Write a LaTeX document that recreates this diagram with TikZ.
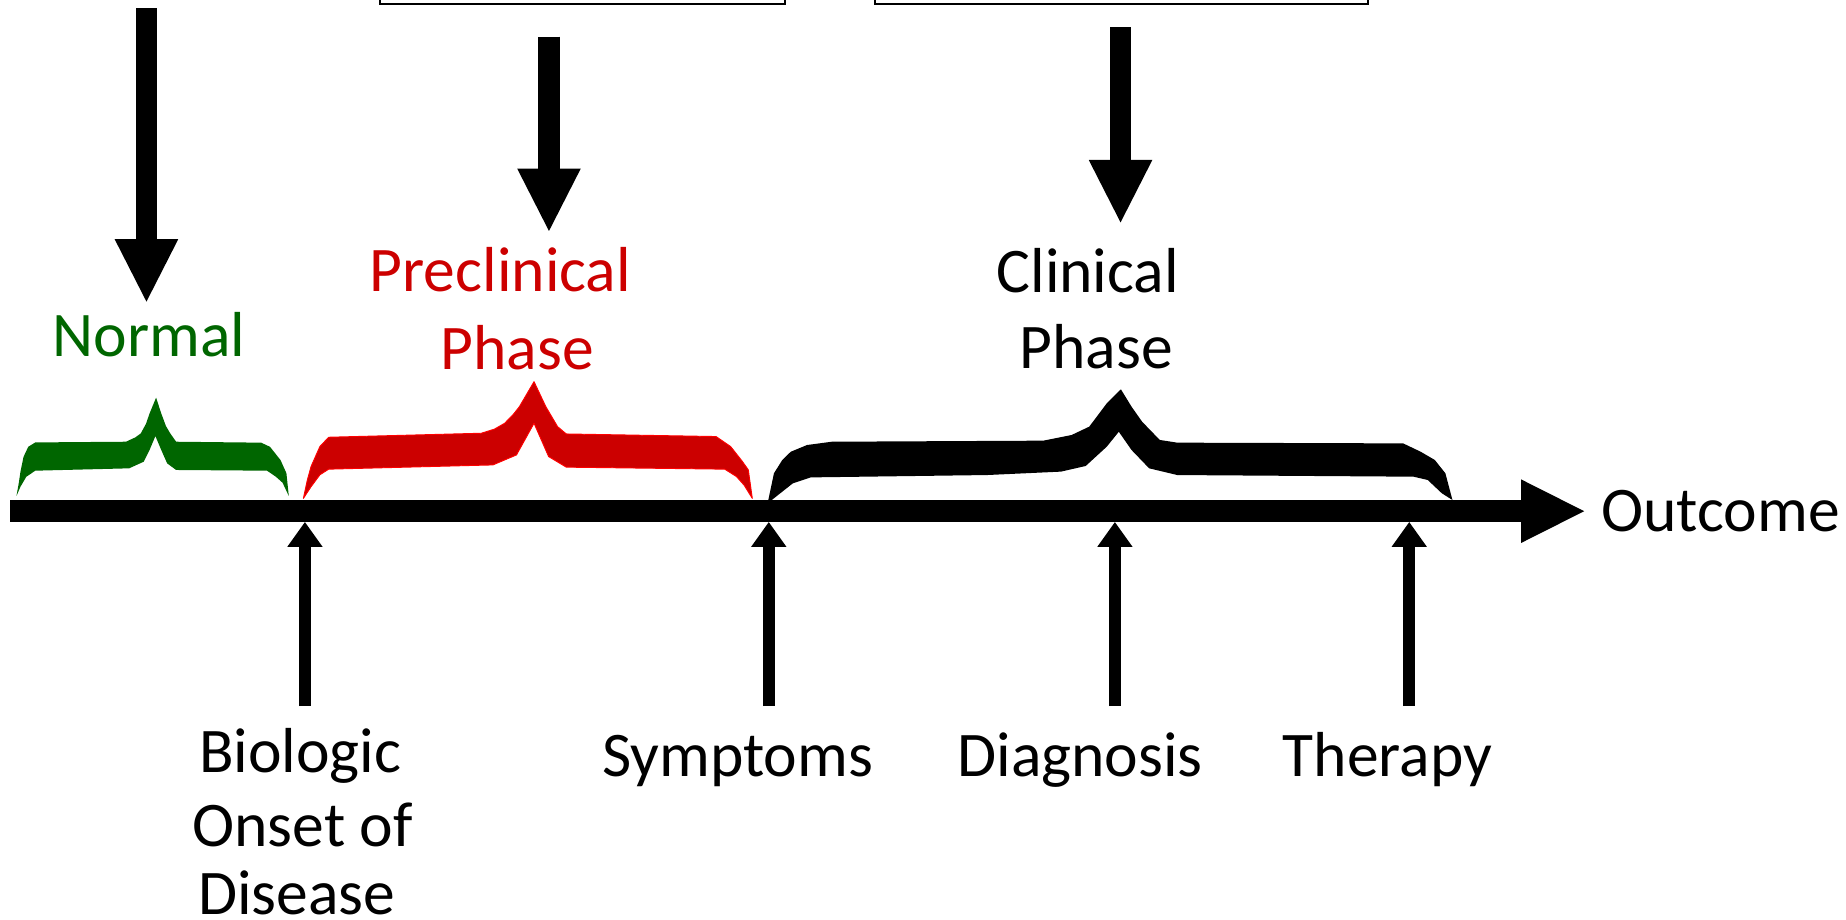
\documentclass[tikz,border=0pt]{standalone}
\usepackage{fontspec}
\setmainfont{Carlito}
\usetikzlibrary{arrows.meta}
\definecolor{ngreen}{HTML}{006600}
\definecolor{pred}{HTML}{CC0000}
\definecolor{predline}{HTML}{FF0000}
\begin{document}
\begin{tikzpicture}[x=1pt,y=-1pt,
  lbl/.style={font=\fontsize{54}{62}\selectfont, inner sep=0pt, anchor=base},
  bigarrow/.style={line width=18pt, -{Triangle[width=54pt,length=53pt,line width=0pt]}},
  axisarrow/.style={line width=19pt, -{Triangle[width=54pt,length=53.6pt,line width=0pt]}},
  smallarrow/.style={line width=10.2pt, -{Triangle[width=30pt,length=21pt,line width=0pt]}},
  topbox/.style={draw, line width=1.7pt, minimum height=80pt, anchor=south west, inner sep=0pt, outer sep=0pt}]
\useasboundingbox (0,0) rectangle (1568,781);

% boxes at the top (cut off)
\node[topbox, minimum width=344pt] (box1) at (323,3) {};
\node[topbox, minimum width=419pt] (box2) at (743,3) {};

% down arrows
\coordinate (n0) at (124.4,7.1);   \coordinate (n1) at (124.4,256.2);
\coordinate (p0) at (466.3,31.2);  \coordinate (p1) at (466.3,196.2);
\coordinate (c0) at (951.8,23.2);  \coordinate (c1) at (951.8,188.9);
\draw[bigarrow] (n0) -- (n1);
\draw[bigarrow] (p0) -- (p1);
\draw[bigarrow] (c0) -- (c1);

% phase labels
\node[lbl, text=ngreen] (normal) at (126.4,303) {Normal};
\node[lbl, text=pred] (precl) at (425,247.7) {Preclinical};
\node[lbl, text=pred] (preph) at (439.3,313.7) {Phase};
\node[lbl] (clin) at (924,248.3) {Clinical};
\node[lbl] (clinph) at (931.2,312.9) {Phase};

% braces
\fill[ngreen] (14,421.3) -- (16,410) -- (17.4,400.6) -- (20,388) -- (24,379.5) -- (30,375.8) -- (107,375.2) -- (115,371.5) -- (119.6,368.1) -- (124,360) -- (127,351.3) -- (132.6,337.7) -- (137,351.3) -- (141,362) -- (144.6,368.1) -- (149.6,375.2) -- (221.8,376) -- (229.3,379.5) -- (238.3,390.8) -- (243.3,402) -- (245.3,421.3) -- (240,410) -- (234.3,404.9) -- (226.8,399.8) -- (149.6,399.2) -- (142,393.6) -- (137,382.3) -- (132,370.4) -- (127,382.3) -- (122,392.2) -- (109.7,397.8) -- (30,399.8) -- (22.4,404.9) -- (17.4,413.4) -- cycle;

\filldraw[fill=pred, draw=predline, line width=0.8pt, line join=round] (257.7,423.3) -- (261,408) -- (264.2,396.3) -- (271.7,379.3) -- (279.2,371.4) -- (408.8,368) -- (420,364.5) -- (428.7,359.5) -- (436,352) -- (441.2,345.4) -- (453.6,324.2) -- (463.6,345.4) -- (473.6,362.4) -- (481,368.6) -- (608.2,370.8) -- (620.6,379.3) -- (630.6,392) -- (635.6,399.1) -- (639,423.3) -- (632,412) -- (625.6,404.8) -- (615.6,398.5) -- (481,396.8) -- (466,387.8) -- (453.6,359.5) -- (438.7,386.4) -- (418.7,394.9) -- (279.2,398.5) -- (271.7,403.3) -- (264.2,413.4) -- cycle;

\fill[black] (652.6,424.7) -- (657.4,402) -- (664.5,390.7) -- (671.7,383.7) -- (685.5,378) -- (706.5,375.2) -- (886.2,374.3) -- (910.2,369.5) -- (925.2,362.4) -- (940.1,342.6) -- (952.1,330.7) -- (961.1,345.4) -- (970.1,358.2) -- (985.1,373.7) -- (1000,376) -- (1191.8,376.6) -- (1206.7,383.7) -- (1218.7,390.7) -- (1227.7,402) -- (1233.7,424.7) -- (1224.7,419) -- (1212.7,407.7) -- (1200.7,404.9) -- (1000,403.5) -- (976.1,397.8) -- (961.1,382.2) -- (950.3,366.7) -- (940.1,379.4) -- (922.2,395.8) -- (901.2,400.6) -- (838.3,403.5) -- (688.5,405.5) -- (673.5,410.5) -- (664.5,417.6) -- (655.6,424.7) -- cycle;

% timeline
\coordinate (t0) at (8.5,434.2);
\node[lbl, anchor=base west] (outcome) at (1360,451.6) {Outcome};
\coordinate (t1) at (1345.6,434.2);
\draw[axisarrow] (t0) -- (t1);

% up arrows
\coordinate (b0) at (259,599.7);  \coordinate (b1) at (259,443.5);
\coordinate (s0) at (653,599.7);  \coordinate (s1) at (653,443.5);
\coordinate (d0) at (947,599.7);  \coordinate (d1) at (947,443.5);
\coordinate (h0) at (1197,599.7); \coordinate (h1) at (1197,443.5);
\draw[smallarrow] (b0) -- (b1);
\draw[smallarrow] (s0) -- (s1);
\draw[smallarrow] (d0) -- (d1);
\draw[smallarrow] (h0) -- (h1);

% event labels
\node[lbl] (bio1) at (255,656.3) {Biologic};
\node[lbl] (bio2) at (257,718.6) {Onset of};
\node[lbl, text depth=0pt] (bio3) at (252,776.5) {Disease};
\node[lbl] (sympt) at (626.5,659.7) {Symptoms};
\node[lbl] (diag) at (917.5,659.7) {Diagnosis};
\node[lbl] (ther) at (1178.5,659.7) {Therapy};
\end{tikzpicture}
\end{document}
